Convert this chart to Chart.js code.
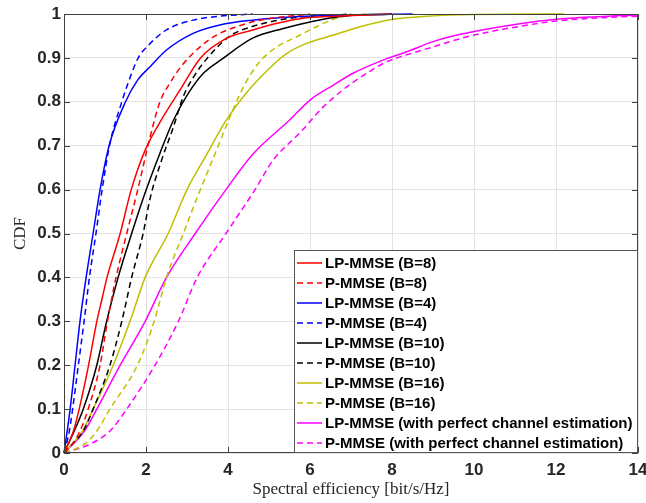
<!DOCTYPE html>
<html>
<head>
<meta charset="utf-8">
<script src="https://cdn.jsdelivr.net/npm/chart.js@4.4.0/dist/chart.umd.min.js"></script>
<style>
  html, body { margin: 0; padding: 0; background: #ffffff; }
</style>
</head>
<body>
<canvas id="chart" width="646" height="503"></canvas>
<script>
// tick labels
var xTicks = [0, 2, 4, 6, 8, 10, 12, 14];
var yTicks = [0, 0.1, 0.2, 0.3, 0.4, 0.5, 0.6, 0.7, 0.8, 0.9, 1];

// legend labels, in the order of the legend
var labels = [
  'LP-MMSE (B=8)', 'P-MMSE (B=8)',
  'LP-MMSE (B=4)', 'P-MMSE (B=4)',
  'LP-MMSE (B=10)', 'P-MMSE (B=10)',
  'LP-MMSE (B=16)', 'P-MMSE (B=16)',
  'LP-MMSE (with perfect channel estimation)', 'P-MMSE (with perfect channel estimation)'
];
var colors = ['#ff0000', '#ff0000', '#0000ff', '#0000ff', '#000000', '#000000',
              '#bfbf00', '#bfbf00', '#ff00ff', '#ff00ff'];
var dashed = [false, true, false, true, false, true, false, true, false, true];

// CDF curves, [spectral efficiency, CDF]
var lpB8 = [[0,0],[0.23,0.05],[0.37,0.1],[0.6,0.2],[0.8,0.3],[0.92,0.348],[1.05,0.4],[1.37,0.5],[1.64,0.6],
  [1.98,0.69],[2.42,0.766],[2.83,0.827],[3.33,0.9],[3.97,0.945],[4.54,0.962],[5.2,0.979],[5.8,0.99],[6.6,0.995],[8,1]];
var pB8 = [[0,0],[0.2,0.02],[0.39,0.05],[0.59,0.1],[0.88,0.2],[1.06,0.3],[1.27,0.4],[1.53,0.5],[1.8,0.6],
  [2.1,0.72],[2.34,0.8],[2.6,0.845],[2.87,0.882],[3.32,0.925],[3.72,0.952],[4.21,0.971],[4.78,0.986],[6,1]];
var lpB4 = [[0,0],[0.15,0.1],[0.27,0.2],[0.39,0.3],[0.54,0.4],[0.71,0.5],[0.88,0.6],[1.1,0.7],[1.5,0.8],
  [1.8,0.85],[2.1,0.88],[2.5,0.918],[3.15,0.956],[3.8,0.975],[4.6,0.986],[5.5,0.993],[7,0.998],[8.5,1]];
var pB4 = [[0,0],[0.13,0.05],[0.21,0.1],[0.35,0.2],[0.49,0.3],[0.62,0.4],[0.78,0.5],[0.93,0.6],[1.12,0.705],
  [1.41,0.8],[1.53,0.834],[1.81,0.9],[2.02,0.925],[2.5,0.964],[3.15,0.986],[3.8,0.995],[4.6,1]];
var lpB10 = [[0,0],[0.25,0.05],[0.47,0.1],[0.8,0.2],[1.04,0.3],[1.32,0.4],[1.65,0.5],[1.93,0.58],[2.34,0.683],
  [2.67,0.758],[3.03,0.819],[3.4,0.865],[3.85,0.897],[4.6,0.945],[5.35,0.967],[6.0,0.982],[6.7,0.994],[8,1]];
var pB10 = [[0,0],[0.2,0.02],[0.47,0.05],[0.71,0.1],[1.12,0.2],[1.41,0.3],[1.65,0.4],[1.93,0.5],[2.1,0.58],
  [2.38,0.667],[2.67,0.743],[2.91,0.812],[3.15,0.855],[3.5,0.9],[4.05,0.95],[4.54,0.97],[5.5,0.99],[7,1]];
var lpB16 = [[0,0],[0.45,0.05],[0.71,0.1],[1.2,0.2],[1.61,0.3],[1.98,0.4],[2.54,0.5],[3.0,0.6],[3.45,0.675],
  [3.95,0.757],[4.4,0.815],[5.05,0.88],[5.43,0.91],[5.92,0.933],[6.57,0.952],[7.22,0.971],[8.03,0.988],
  [8.85,0.995],[10,0.999],[12.2,1]];
var pB16 = [[0,0],[0.5,0.02],[0.8,0.05],[1.12,0.1],[1.79,0.2],[2.2,0.3],[2.35,0.35],[2.5,0.4],[2.91,0.5],
  [3.24,0.58],[3.72,0.69],[4.05,0.766],[4.4,0.838],[4.76,0.89],[5.19,0.925],[5.67,0.948],
  [6.16,0.971],[6.57,0.988],[7.05,0.998],[7.5,1]];
var lpPerfect = [[0,0],[0.5,0.05],[0.8,0.1],[1.37,0.2],[1.98,0.3],[2.5,0.4],[3.2,0.5],[3.95,0.6],[4.6,0.68],
  [5.51,0.759],[6.0,0.804],[6.57,0.838],[7.05,0.865],[7.78,0.895],[8.36,0.914],[9.0,0.937],[9.41,0.948],
  [10,0.96],[11,0.976],[12,0.988],[13,0.994],[14,0.998]];
var pPerfect = [[0,0],[0.63,0.02],[1.12,0.05],[1.53,0.1],[2.22,0.2],[2.79,0.3],[3.25,0.4],[3.95,0.5],[4.66,0.6],
  [5.1,0.667],[5.76,0.73],[6.33,0.789],[6.8,0.827],[7.38,0.865],[7.87,0.891],[8.36,0.907],[9.0,0.925],
  [9.41,0.937],[10,0.952],[11,0.97],[12,0.984],[13,0.991],[14,0.995]];

var curves = [lpB8, pB8, lpB4, pB4, lpB10, pB10, lpB16, pB16, lpPerfect, pPerfect];

var datasets = [];
for (var i = 0; i < curves.length; i++) {
  datasets.push({
    label: labels[i],
    data: curves[i].map(function (p) { return { x: p[0], y: p[1] }; }),
    borderColor: colors[i],
    borderWidth: 1.5,
    borderDash: dashed[i] ? [6, 4] : [],
    pointRadius: 0,
    cubicInterpolationMode: 'monotone',
    fill: false,
    clip: 3
  });
}

var axisColor = '#262626';

// box round the plot and inward tick marks (matlab style)
var axesBox = {
  id: 'axesBox',
  afterDatasetsDraw: function (chart) {
    var ctx = chart.ctx;
    var a = chart.chartArea;
    var sx = chart.scales.x;
    var sy = chart.scales.y;
    ctx.save();
    ctx.strokeStyle = '#404040';
    ctx.lineWidth = 1;
    ctx.beginPath();
    xTicks.forEach(function (v) {
      var px = Math.round(sx.getPixelForValue(v)) + 0.5;
      ctx.moveTo(px, a.bottom); ctx.lineTo(px, a.bottom - 6);
      ctx.moveTo(px, a.top); ctx.lineTo(px, a.top + 6);
    });
    yTicks.forEach(function (v) {
      var py = Math.round(sy.getPixelForValue(v)) + 0.5;
      ctx.moveTo(a.left, py); ctx.lineTo(a.left + 6, py);
      ctx.moveTo(a.right, py); ctx.lineTo(a.right - 6, py);
    });
    ctx.stroke();
    ctx.strokeRect(a.left + 0.5, a.top + 0.5, a.right - a.left - 1, a.bottom - a.top - 1);
    ctx.restore();
  }
};

// legend inside the plot, lower right corner
var boxLegend = {
  id: 'boxLegend',
  afterDatasetsDraw: function (chart) {
    var ctx = chart.ctx;
    var a = chart.chartArea;
    ctx.save();
    ctx.font = 'bold 15px "Liberation Sans", Arial, sans-serif';
    var maxW = 0;
    chart.data.datasets.forEach(function (ds) {
      maxW = Math.max(maxW, ctx.measureText(ds.label).width);
    });
    var rowH = 20;
    var w = 3 + 25 + 3 + maxW + 5;
    var h = 13 + (chart.data.datasets.length - 1) * rowH + 10;
    var left = Math.round(a.right - w);
    var top = Math.round(a.bottom - h);
    ctx.fillStyle = '#ffffff';
    ctx.fillRect(left, top, a.right - left, a.bottom - top);
    ctx.strokeStyle = '#555555';
    ctx.lineWidth = 1;
    ctx.strokeRect(left + 0.5, top + 0.5, a.right - left - 1, a.bottom - top - 1);
    ctx.textBaseline = 'middle';
    chart.data.datasets.forEach(function (ds, k) {
      var y = top + 13 + k * rowH;
      ctx.strokeStyle = ds.borderColor;
      ctx.lineWidth = 1.5;
      ctx.setLineDash(ds.borderDash);
      ctx.beginPath();
      ctx.moveTo(left + 3, y);
      ctx.lineTo(left + 28, y);
      ctx.stroke();
      ctx.setLineDash([]);
      ctx.fillStyle = '#000000';
      ctx.fillText(ds.label, left + 31, y + 1);
    });
    ctx.restore();
  }
};

var ctx = document.getElementById('chart').getContext('2d');
var chart = new Chart(ctx, {
  type: 'line',
  data: { datasets: datasets },
  options: {
    responsive: false,
    animation: false,
    layout: { padding: { top: 14, right: 8, left: 0, bottom: 0 } },
    plugins: {
      legend: { display: false },
      tooltip: { enabled: false }
    },
    scales: {
      x: {
        type: 'linear',
        min: 0,
        max: 14,
        afterBuildTicks: function (scale) {
          scale.ticks = xTicks.map(function (v) { return { value: v }; });
        },
        afterFit: function (scale) {
          scale.height = 50;
          scale.paddingLeft = 0;
          scale.paddingRight = 0;
        },
        grid: { color: '#e3e3e3', drawTicks: false },
        border: { display: false },
        ticks: {
          padding: 7,
          color: axisColor,
          maxRotation: 0,
          font: { family: '"Liberation Sans", Arial, sans-serif', weight: 'bold', size: 17 },
          callback: function (v) { return String(v); }
        },
        title: {
          display: true,
          text: 'Spectral efficiency [bit/s/Hz]',
          color: axisColor,
          padding: { top: 0, bottom: 3 },
          font: { family: '"Liberation Serif", "DejaVu Serif", serif', size: 17 }
        }
      },
      y: {
        type: 'linear',
        min: 0,
        max: 1,
        afterBuildTicks: function (scale) {
          scale.ticks = yTicks.map(function (v) { return { value: v }; });
        },
        afterFit: function (scale) {
          scale.width = 64;
          scale.paddingTop = 0;
          scale.paddingBottom = 0;
        },
        grid: { color: '#e3e3e3', drawTicks: false },
        border: { display: false },
        ticks: {
          padding: 3,
          color: axisColor,
          font: { family: '"Liberation Sans", Arial, sans-serif', weight: 'bold', size: 17 },
          callback: function (v) { return String(v); }
        },
        title: {
          display: true,
          text: 'CDF',
          color: axisColor,
          padding: { top: 10, bottom: 0 },
          font: { family: '"Liberation Serif", "DejaVu Serif", serif', size: 17 }
        }
      }
    }
  },
  plugins: [axesBox, boxLegend]
});
</script>
</body>
</html>
